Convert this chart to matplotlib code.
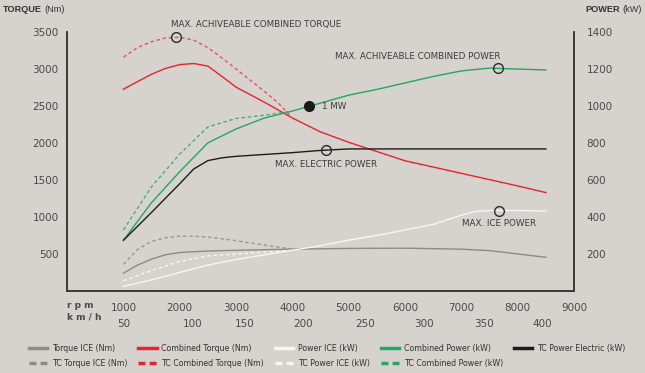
import matplotlib.pyplot as plt
from matplotlib.lines import Line2D
from matplotlib.transforms import blended_transform_factory

# data
rpm_torque_ice = [1000, 1250, 1500, 1750, 2000, 2500, 3000, 4000, 5000, 6000, 7000, 7500, 8000, 8500]
torque_ice = [240, 350, 430, 490, 520, 540, 550, 565, 575, 578, 565, 545, 500, 455]

rpm_tc_torque_ice = [1000, 1250, 1500, 1750, 2000, 2250, 2500, 3000, 3500, 4000]
tc_torque_ice = [360, 560, 670, 720, 740, 740, 730, 680, 620, 565]

rpm_comb_torque = [1000, 1250, 1500, 1750, 2000, 2250, 2500, 2750, 3000, 3500, 4000, 4500, 5000, 6000, 7000, 8000, 8500]
comb_torque = [2728, 2830, 2930, 3010, 3060, 3075, 3040, 2900, 2755, 2553, 2338, 2150, 2010, 1760, 1590, 1420, 1330]

rpm_tc_comb_torque = [1000, 1250, 1500, 1750, 2000, 2250, 2500, 2750, 3000, 3250, 3500, 3750, 4000]
tc_comb_torque = [3160, 3290, 3370, 3420, 3430, 3390, 3290, 3150, 3000, 2850, 2700, 2540, 2338]

rpm_power_ice = [1000, 1500, 2000, 2500, 3000, 3500, 4000, 4500, 5000, 5500, 6000, 6500, 7000, 7250, 7500, 8000, 8500]
power_ice = [25, 60, 100, 140, 170, 195, 220, 245, 275, 300, 330, 360, 410, 430, 435, 435, 432]

rpm_tc_power_ice = [1000, 1500, 2000, 2500, 3000, 3500, 4000]
tc_power_ice = [55, 110, 160, 190, 200, 210, 220]

rpm_comb_power = [1000, 1500, 2000, 2500, 3000, 3500, 4000, 4500, 5000, 5500, 6000, 6500, 7000, 7500, 8000, 8500]
comb_power = [274, 478, 645, 801, 876, 935, 973, 1016, 1059, 1090, 1125, 1160, 1190, 1205, 1200, 1195]

rpm_tc_comb_power = [1000, 1500, 2000, 2500, 3000, 3500, 4000]
tc_comb_power = [330, 564, 740, 887, 933, 950, 973]

rpm_tc_power_el = [1000, 1500, 2000, 2250, 2500, 2750, 3000, 3500, 4000, 4500, 5000, 6000, 7000, 8000, 8500]
tc_power_el = [274, 425, 580, 660, 705, 720, 728, 738, 748, 760, 768, 768, 768, 768, 768]

rpm_ticks = [1000, 2000, 3000, 4000, 5000, 6000, 7000, 8000, 9000]
kmh_pos = [1000, 2227, 3152, 4184, 5287, 6336, 7403, 8435]
kmh_labels = ["50", "100", "150", "200", "250", "300", "350", "400"]
torque_ticks = [500, 1000, 1500, 2000, 2500, 3000, 3500]
power_ticks = [200, 400, 600, 800, 1000, 1200, 1400]

bg = "#d6d2ce"
red = "#e8232b"
green = "#23a85e"
gray = "#8e8a86"
white = "#f7f6f4"
black = "#1c1c1c"
txt = "#4a4a4a"

fig = plt.figure(figsize=(6.45, 3.73), dpi=100, facecolor=bg)
ax = fig.add_axes([0.104, 0.22, 0.786, 0.694], facecolor=bg)
ax2 = ax.twinx()

lw = 1.0
dash = (0, (2.5, 2))
ax.plot(rpm_torque_ice, torque_ice, color=gray, lw=lw)
ax.plot(rpm_tc_torque_ice, tc_torque_ice, color="#9c9793", lw=lw, ls=dash)
ax.plot(rpm_comb_torque, comb_torque, color=red, lw=lw)
ax.plot(rpm_tc_comb_torque, tc_comb_torque, color="#e8535a", lw=lw, ls=dash)
ax2.plot(rpm_power_ice, power_ice, color=white, lw=lw)
ax2.plot(rpm_tc_power_ice, tc_power_ice, color=white, lw=lw, ls=dash)
ax2.plot(rpm_comb_power, comb_power, color=green, lw=lw)
ax2.plot(rpm_tc_comb_power, tc_comb_power, color="#44b071", lw=lw, ls=dash)
ax2.plot(rpm_tc_power_el, tc_power_el, color=black, lw=lw)

ax.set_xlim(0, 9000)
ax.set_ylim(0, 3500)
ax2.set_ylim(0, 1400)

for a in (ax, ax2):
    a.spines["top"].set_visible(False)
    for s in ("left", "right", "bottom"):
        a.spines[s].set_color("#3a3a3a")
        a.spines[s].set_linewidth(1.2)

ax.set_yticks(torque_ticks)
ax.set_yticklabels([str(v) for v in torque_ticks])
ax2.set_yticks(power_ticks)
ax2.set_yticklabels([str(v) for v in power_ticks])
ax.tick_params(axis="y", length=0, pad=6, labelsize=7.5, labelcolor=txt)
ax2.tick_params(axis="y", length=0, pad=9, labelsize=7.5, labelcolor=txt)

ax.set_xticks(rpm_ticks)
ax.set_xticklabels([str(v) for v in rpm_ticks])
ax.tick_params(axis="x", length=0, pad=9, labelsize=7.5, labelcolor=txt)

sec = ax.secondary_xaxis("bottom")
sec.set_xticks(kmh_pos)
sec.set_xticklabels(kmh_labels)
sec.tick_params(axis="x", length=0, pad=20, labelsize=7.5, labelcolor=txt)
sec.spines["bottom"].set_visible(False)

tr = blended_transform_factory(ax.transAxes, fig.transFigure)
ax.text(0.0, 1 - 305 / 373, "r p m", transform=tr, fontsize=6.5, fontweight="bold",
        color=txt, va="center", ha="left")
ax.text(0.0, 1 - 317 / 373, "k m / h", transform=tr, fontsize=6.5, fontweight="bold",
        color=txt, va="center", ha="left")

hdr = dict(fontsize=6.6, color="#333333", va="center", family="Liberation Sans")
fig.text(3 / 645, 1 - 9 / 373, "TORQUE", fontweight="bold", **hdr)
fig.text(44 / 645, 1 - 9 / 373, "(Nm)", **hdr)
fig.text(585 / 645, 1 - 9 / 373, "POWER", fontweight="bold", **hdr)
fig.text(622 / 645, 1 - 9 / 373, "(kW)", **hdr)

# highlighted points
mk = dict(marker="o", ms=7, mfc="none", mec="#2a2a2a", mew=1.0, ls="none")
ax.plot([1925], [3430], **mk)
ax2.plot([7650], [1204], **mk)
ax2.plot([4600], [763], **mk)
ax2.plot([7670], [435], **mk)
ax2.plot([4290], [1000], marker="o", ms=7, color="#1a1a1a", ls="none")

ann = dict(fontsize=6.3, color="#3c3c3c")
ax.text(1850, 3605, "MAX. ACHIVEABLE COMBINED TORQUE", ha="left", va="center", **ann)
ax2.text(7700, 1270, "MAX. ACHIVEABLE COMBINED POWER", ha="right", va="center", **ann)
ax2.text(4520, 1000, "1 MW", ha="left", va="center", **ann)
ax2.text(4600, 683, "MAX. ELECTRIC POWER", ha="center", va="center", **ann)
ax2.text(7670, 365, "MAX. ICE POWER", ha="center", va="center", **ann)

sdash = (0, (2, 1.2))
handles = [
    Line2D([], [], color=gray, lw=2.5),
    Line2D([], [], color=gray, lw=2.5, ls=sdash),
    Line2D([], [], color=red, lw=2.5),
    Line2D([], [], color=red, lw=2.5, ls=sdash),
    Line2D([], [], color=white, lw=2.5),
    Line2D([], [], color=white, lw=2.5, ls=sdash),
    Line2D([], [], color=green, lw=2.5),
    Line2D([], [], color=green, lw=2.5, ls=sdash),
    Line2D([], [], color=black, lw=2.5),
]
labels = [
    "Torque ICE (Nm)", "TC Torque ICE (Nm)",
    "Combined Torque (Nm)", "TC Combined Torque (Nm)",
    "Power ICE (kW)", "TC Power ICE (kW)",
    "Combined Power (kW)", "TC Combined Power (kW)",
    "TC Power Electric (kW)",
]
leg = fig.legend(handles, labels, ncol=5, loc="upper left",
                 bbox_to_anchor=(29 / 645, 1 - 344 / 373), frameon=False,
                 fontsize=5.7, handlelength=2.3, handletextpad=0.6,
                 columnspacing=1.4, labelspacing=0.75, borderaxespad=0,
                 borderpad=0)
for t in leg.get_texts():
    t.set_color("#333333")

fig.savefig("out.png", dpi=100, facecolor=bg)
